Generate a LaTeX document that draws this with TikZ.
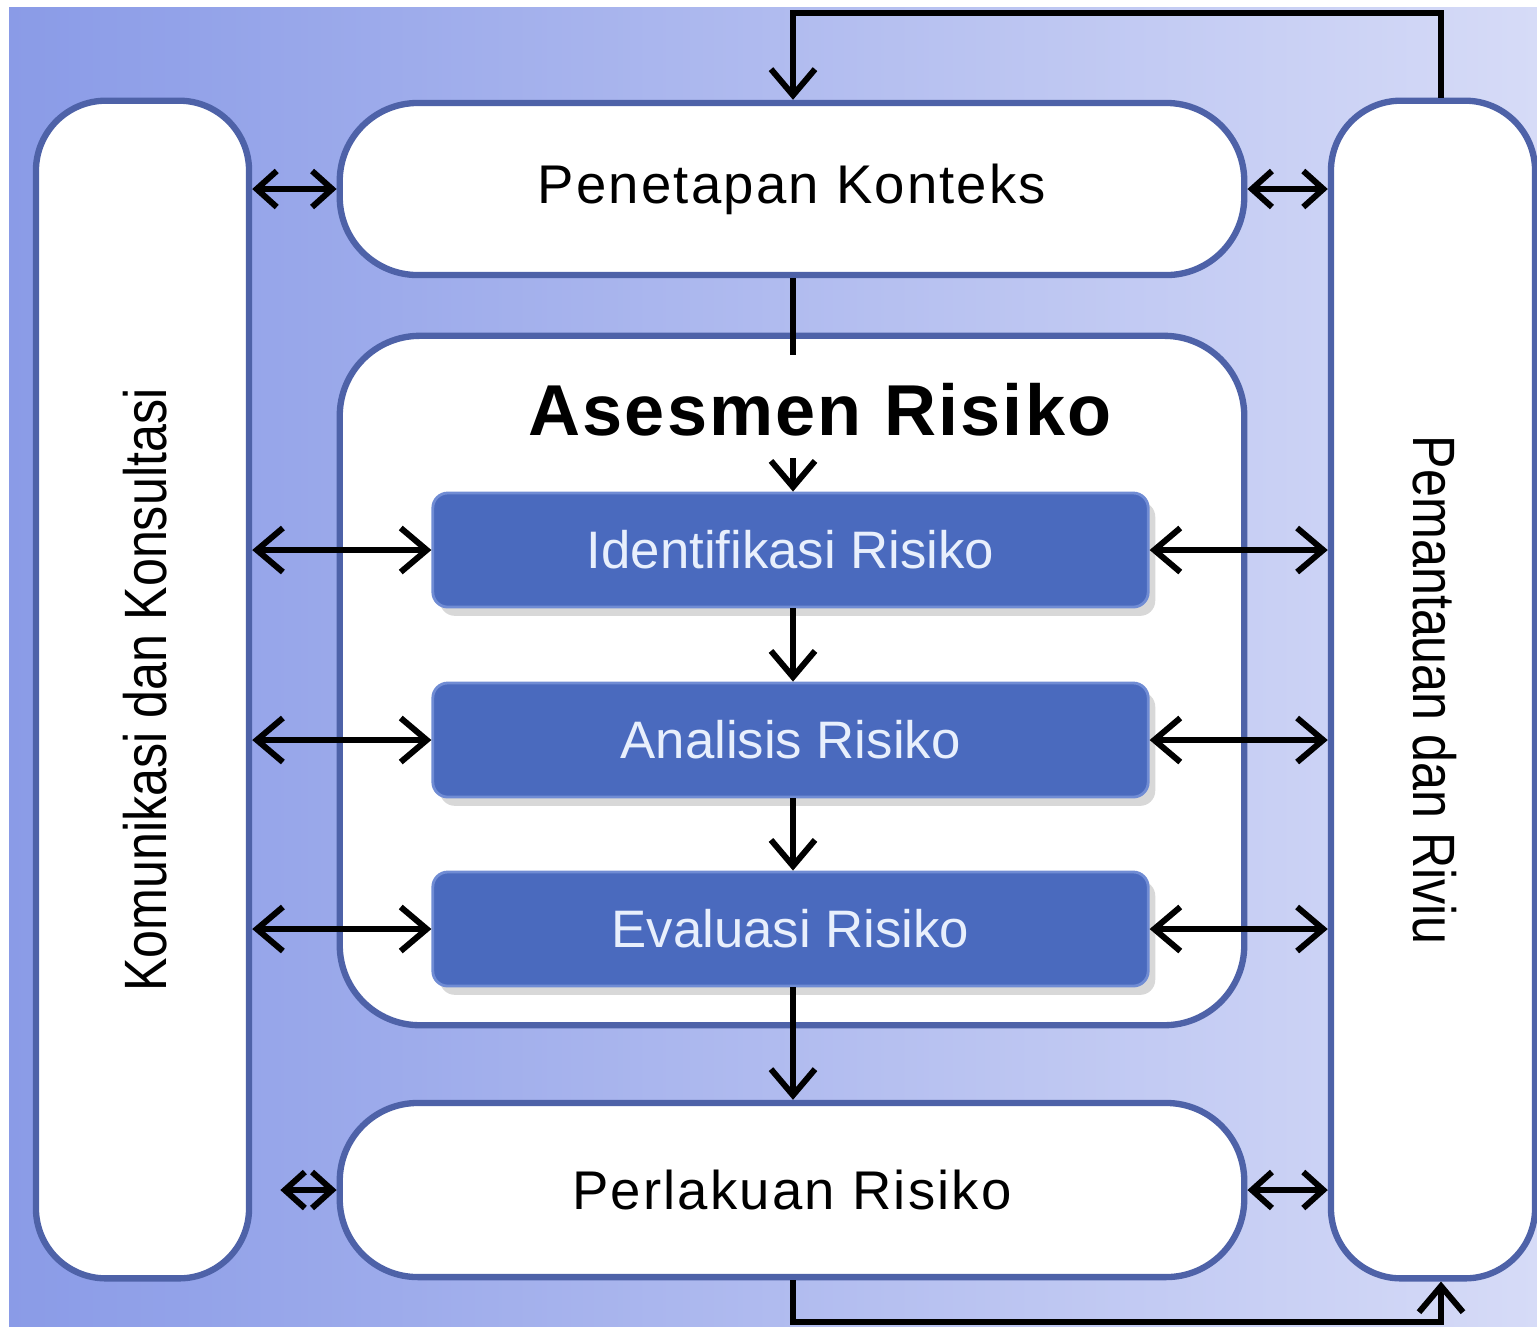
\documentclass[tikz,border=0pt]{standalone}
\usepackage{fontspec}
\setmainfont{Liberation Sans}
\newfontfamily\narrowsans[FakeStretch=0.84]{Liberation Sans}
\newfontfamily\spacedsans[LetterSpace=4]{Liberation Sans}
\usetikzlibrary{arrows.meta,shadows,calc}

\definecolor{bgleft}{RGB}{138,155,231}
\definecolor{bgright}{RGB}{214,219,247}
\definecolor{frame}{RGB}{78,98,168}
\definecolor{stepfill}{RGB}{74,106,190}
\definecolor{stepedge}{RGB}{112,140,212}
\definecolor{steptext}{RGB}{232,239,252}

\tikzset{
  panel/.style={draw=frame, line width=1.8pt, fill=white, inner sep=0pt},
  stepbox/.style={draw=stepedge, line width=0.8pt, fill=stepfill, rounded corners=0.15cm,
    minimum width=7.15cm, minimum height=1.14cm, text=steptext,
    font=\fontsize{15}{18}\selectfont,
    drop shadow={shadow xshift=2pt, shadow yshift=-2.5pt, opacity=0.3}},
  flow/.style={line width=1.7pt, black},
  tip/.style={-{Straight Barb[length=2.6mm,width=4.4mm,line width=1.7pt]}},
  twotip/.style={{Straight Barb[length=2.6mm,width=4.4mm,line width=1.7pt]}-{Straight Barb[length=2.6mm,width=4.4mm,line width=1.7pt]}},
  smalltip/.style={{Straight Barb[length=2.0mm,width=3.6mm,line width=1.7pt]}-{Straight Barb[length=2.0mm,width=3.6mm,line width=1.7pt]}},
}

\begin{document}
\begin{tikzpicture}[x=0.01cm, y=-0.01cm]
  % page and shaded backdrop
  \fill[white] (0,0) rectangle (1537,1326);
  \useasboundingbox (0,0) rectangle (1537,1326);
  \shade[left color=bgleft, right color=bgright] (9,7) rectangle (1537,1326);

  % side columns
  \node[panel, rounded corners=0.7cm, minimum width=2.13cm, minimum height=11.77cm]
    (kom) at (142.5,689.5) {};
  \node[font=\fontsize{17}{20}\selectfont, rotate=90] (komtxt) at (145,690)
    {\narrowsans Komunikasi dan Konsultasi};
  \node[panel, rounded corners=0.7cm, minimum width=2.04cm, minimum height=11.77cm]
    (pem) at (1433,689.5) {};
  \node[font=\fontsize{17}{20}\selectfont, rotate=-90] (pemtxt) at (1435,690)
    {\narrowsans Pemantauan dan Riviu};

  % main column
  \node[panel, rounded corners=0.78cm, minimum width=9.04cm, minimum height=1.72cm,
    font=\fontsize{15.5}{18}\selectfont] (ctx) at (792,189) {\spacedsans Penetapan Konteks};
  \node[panel, rounded corners=0.8cm, minimum width=9.04cm, minimum height=6.89cm]
    (ase) at (792,680.5) {};
  \node[font=\fontsize{20.5}{24}\bfseries\selectfont] (ttl) at (820,410)
    {\addfontfeature{LetterSpace=3}Asesmen Risiko};
  \node[panel, rounded corners=0.78cm, minimum width=9.04cm, minimum height=1.74cm,
    font=\fontsize{15.5}{18}\selectfont] (per) at (792,1190) {\spacedsans Perlakuan Risiko};

  \node[stepbox] (idf) at (790.5,550) {Identifikasi Risiko};
  \node[stepbox] (ana) at (790.5,740) {Analisis Risiko};
  \node[stepbox] (eva) at (790.5,929) {Evaluasi Risiko};

  % feedback loop coordinates
  \coordinate (t1) at (1441,13);
  \coordinate (t2) at (793,13);
  \coordinate (b1) at (793,1322);
  \coordinate (b2) at (1441,1322);
  \coordinate (a0) at (793,355);
  \coordinate (a1) at (793,458);

  % feedback from monitoring to context, and from treatment to monitoring
  \draw[flow, tip] (t1 |- pem.north) -- (t1) -- (t2) -- (t2 |- ctx.north);
  \draw[flow, tip] (b1 |- per.south) -- (b1) -- (b2) -- (b2 |- pem.south);

  % vertical process flow
  \draw[flow] (a0 |- ctx.south) -- (a0);
  \draw[flow, tip] (a1) -- (a1 |- idf.north);
  \draw[flow, tip] (a1 |- idf.south) -- (a1 |- ana.north);
  \draw[flow, tip] (a1 |- ana.south) -- (a1 |- eva.north);
  \draw[flow, tip] (a1 |- eva.south) -- (a1 |- per.north);

  % exchanges with the side columns
  \foreach \s in {idf,ana,eva}{
    \draw[flow, twotip] (kom.east |- \s.west) -- (\s.west);
    \draw[flow, twotip] (\s.east) -- (pem.west |- \s.east);
  }
  \draw[flow, smalltip] (kom.east |- ctx.west) -- (ctx.west);
  \draw[flow, smalltip] (ctx.east) -- (pem.west |- ctx.east);
  \draw[flow, smalltip, shorten <=8pt] (kom.east |- per.west) -- (per.west);
  \draw[flow, smalltip] (per.east) -- (pem.west |- per.east);
\end{tikzpicture}
\end{document}
